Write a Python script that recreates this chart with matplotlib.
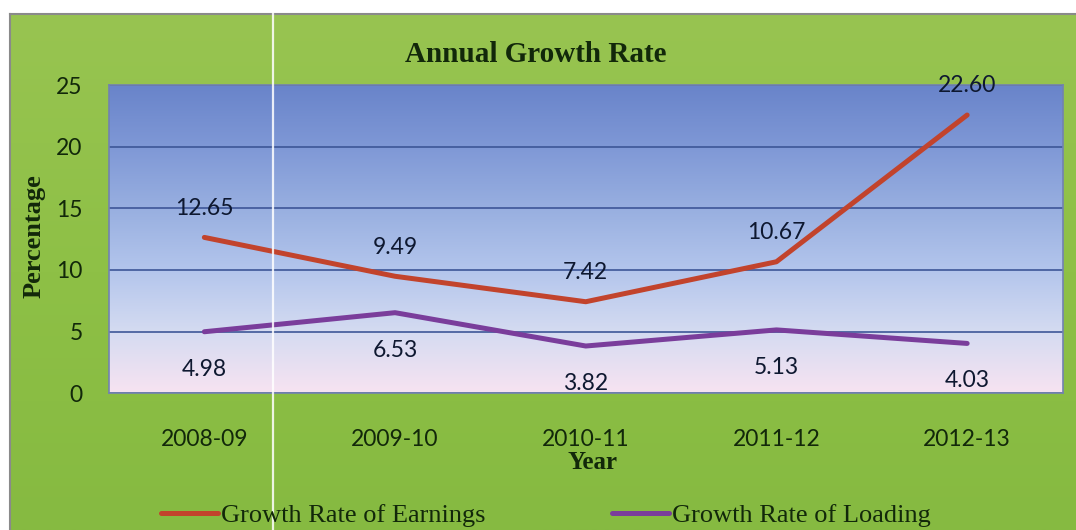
import numpy as np
import matplotlib.pyplot as plt
from matplotlib.colors import LinearSegmentedColormap
from matplotlib.lines import Line2D

years = ['2008-09', '2009-10', '2010-11', '2011-12', '2012-13']
earnings = [12.65, 9.49, 7.42, 10.67, 22.60]
loading = [4.98, 6.53, 3.82, 5.13, 4.03]
yticks = [0, 5, 10, 15, 20, 25]

W, H = 1076, 530
plt.rcParams['font.family'] = ['Lato', 'DejaVu Sans']
serif = 'Liberation Serif'
ink = '#12280a'

fig = plt.figure(figsize=(W / 100, H / 100), dpi=100)
fig.patch.set_facecolor('white')

# green chart area with a grey frame
bg = fig.add_axes([10 / W, 0, 1 - 10 / W, (H - 14) / H])
green = LinearSegmentedColormap.from_list('green', ['#86ba41', '#8ec046', '#98c451'])
bg.imshow(np.linspace(0, 1, 256).reshape(-1, 1), cmap=green, aspect='auto',
          extent=[0, 1, 0, 1], origin='lower')
bg.set_xlim(0, 1)
bg.set_ylim(0, 1)
bg.set_xticks([])
bg.set_yticks([])
for s in ['right', 'bottom']:
    bg.spines[s].set_visible(False)
for s in ['left', 'top']:
    bg.spines[s].set_color('#8a8a8a')
    bg.spines[s].set_linewidth(1.5)

ax = fig.add_axes([109 / W, (H - 393) / H, 953.5 / W, 307.5 / H])
x = np.arange(len(years))

# plot area: blue at the top fading to pale pink at the bottom
shade = LinearSegmentedColormap.from_list(
    'shade', [(0.0, '#f7e3f2'), (0.2, '#d4dbf1'), (0.4, '#b3c5ec'),
              (0.6, '#98afe0'), (0.8, '#7f98d6'), (1.0, '#6984ca')])
ax.imshow(np.linspace(0, 1, 256).reshape(-1, 1), cmap=shade, aspect='auto',
          extent=[-0.5, 4.5, 0, 25], origin='lower', zorder=0)

ax.plot(x, earnings, color='#c2432c', lw=3.6, solid_capstyle='round',
        label='Growth Rate of Earnings', zorder=3)
ax.plot(x, loading, color='#7a3d9b', lw=3.6, solid_capstyle='round',
        label='Growth Rate of Loading', zorder=3)

for xi, v in zip(x, earnings):
    ax.annotate(f'{v:.2f}', (xi, v), xytext=(0, 21), textcoords='offset points',
                ha='center', va='center', fontsize=16.5, color='#0e1830', zorder=4)
for xi, v in zip(x, loading):
    ax.annotate(f'{v:.2f}', (xi, v), xytext=(0, -27), textcoords='offset points',
                ha='center', va='center', fontsize=16.5, color='#0e1830', zorder=4)

ax.set_xlim(-0.5, 4.5)
ax.set_ylim(0, 25)
ax.set_xticks(x)
ax.set_xticklabels(years)
ax.set_yticks(yticks)
ax.grid(axis='y', color='#3d5697', lw=1.2)
ax.tick_params(length=0, labelsize=16.5, labelcolor=ink)
ax.tick_params(axis='y', pad=19)
ax.tick_params(axis='x', pad=26)
for s in ax.spines.values():
    s.set_color('#7282b0')
    s.set_linewidth(1.2)

fig.text(536 / W, 1 - 62 / H, 'Annual Growth Rate', ha='center', va='baseline',
         family=serif, weight='bold', size=21, color=ink)
fig.text(592 / W, 1 - 469 / H, 'Year', ha='center', va='baseline',
         family=serif, weight='bold', size=18, color=ink)
fig.text(34 / W, 1 - 236 / H, 'Percentage', ha='center', va='center', rotation=90,
         family=serif, weight='bold', size=19, color=ink)

fig.legend(*ax.get_legend_handles_labels(), loc='center',
           bbox_to_anchor=(546 / W, 1 - 515 / H), ncol=2, frameon=False,
           handlelength=2.16, handletextpad=0.1, columnspacing=4.8,
           prop={'family': serif, 'size': 19}, labelcolor=ink)

# thin white streak running down the page
fig.add_artist(Line2D([272.5 / W] * 2, [0, 1], transform=fig.transFigure,
                      color='white', lw=1.6, alpha=0.85))

fig.savefig('out.png', dpi=100)
